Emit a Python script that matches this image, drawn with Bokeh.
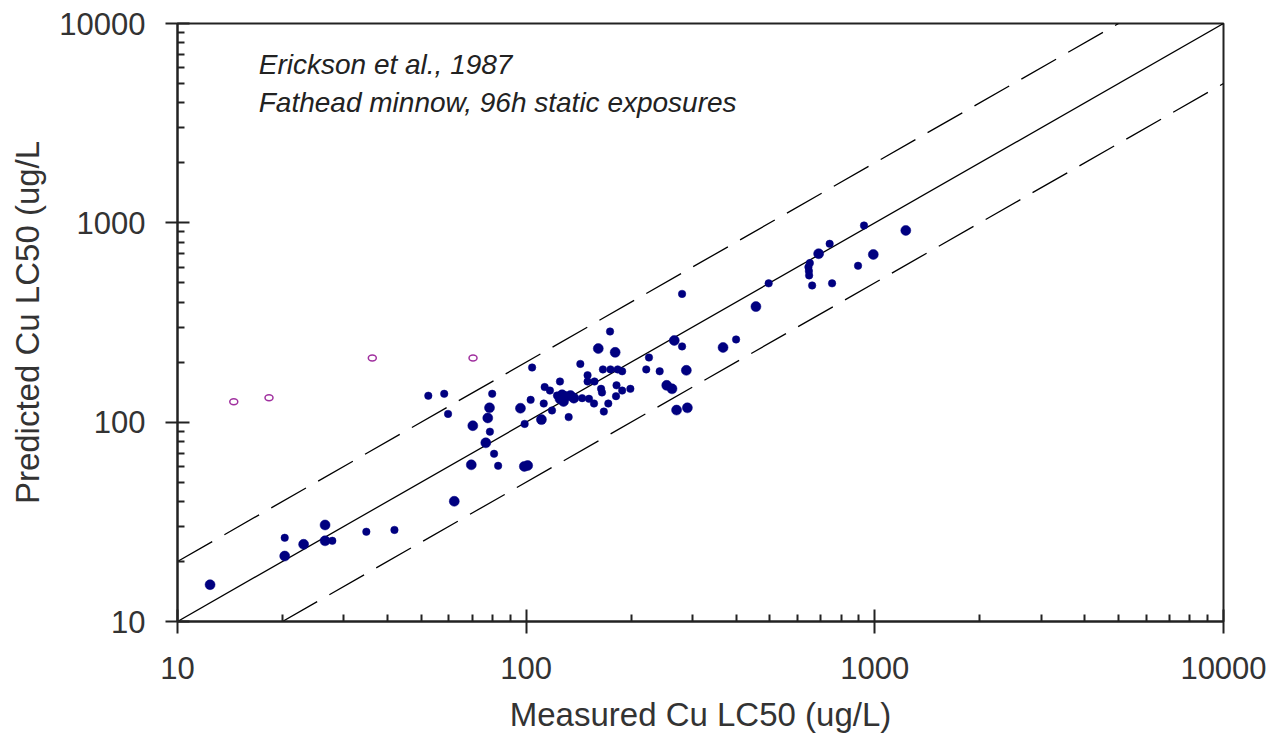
from bokeh.plotting import figure
from bokeh.models import Range1d, FixedTicker, NumeralTickFormatter, Label
from bokeh.embed import file_html
from bokeh.resources import INLINE

# ---- data ----
# larger filled markers
big_measured = [12.4, 20.3, 23.0, 26.5, 26.5, 62.2, 78.5, 77.6, 70.3, 76.6, 69.6,
                98.8, 101, 96.3, 110.6, 126.8, 129.7, 125, 128, 134, 137,
                180, 161, 266, 288, 253, 262, 270, 290, 367, 456, 690, 990, 1227]
big_predicted = [15.3, 21.3, 24.4, 30.5, 25.4, 40.1, 118, 105, 96, 78.8, 61.1,
                 60, 60.6, 117.5, 103, 137.3, 134.5, 131, 127, 136, 132,
                 224, 234, 257, 182, 153, 147, 115, 118, 237, 380, 700, 694, 916]
# smaller filled markers
small_measured = [20.3, 27.8, 34.8, 41.9, 52.4, 58.2, 59.7, 79.9, 78.7, 80.9, 83.1,
                  280, 174, 280, 225, 143, 104, 166, 174.5, 183, 188.5, 221, 241.5,
                  150, 150, 157, 125, 164, 165, 181.6, 188.5, 199, 181, 172, 167,
                  113, 117, 122.6, 112.3, 118.6, 132.4, 144.7, 151.4, 156.5, 103, 99,
                  400, 496, 931, 895, 754, 742, 651, 645, 647, 648, 661]
small_predicted = [26.3, 25.4, 28.2, 28.8, 135.7, 138.8, 110, 138.8, 89.6, 69.4, 60.4,
                   440, 285, 240, 211, 196, 188, 184, 184, 184, 180, 184, 180,
                   172, 160, 160, 160, 147, 141, 153, 144, 147, 135, 124, 113,
                   150, 144, 136, 124, 114.5, 106, 132, 131, 124, 129.4, 98,
                   260, 497, 970, 609, 497, 785, 628, 600, 573, 545, 485]
# open (excluded) markers
open_measured = [14.5, 18.3, 36.2, 70.4]
open_predicted = [126.6, 132.6, 210, 210]

# reference lines: 1:1 and factor-of-two bounds
line_x = [10, 10000]
line_y = [10, 10000]
upper_x = [10, 5000]
upper_y = [20, 10000]
lower_x = [20, 10000]
lower_y = [10, 5000]

major_ticks = [10, 100, 1000, 10000]
minor_ticks = [m * d for d in (10, 100, 1000) for m in range(2, 10)]

TXT = "#333333"
FONT = "Liberation Sans"

p = figure(width=1278, height=738, x_axis_type="log", y_axis_type="log",
           x_range=Range1d(10, 10000), y_range=Range1d(10, 10000),
           output_backend="svg", toolbar_location=None,
           min_border_left=177, min_border_right=55, min_border_top=23, min_border_bottom=117,
           background_fill_color="white", border_fill_color="white")

p.xgrid.visible = False
p.ygrid.visible = False
p.outline_line_color = "#222222"
p.outline_line_width = 2

for ax in (p.xaxis[0], p.yaxis[0]):
    ax.ticker = FixedTicker(ticks=major_ticks, minor_ticks=minor_ticks)
    ax.formatter = NumeralTickFormatter(format="0")
    ax.axis_line_color = "#222222"
    ax.axis_line_width = 2
    ax.major_tick_line_color = "#222222"
    ax.major_tick_line_width = 2
    ax.minor_tick_line_color = "#222222"
    ax.minor_tick_line_width = 2
    ax.major_tick_in = 12
    ax.major_tick_out = 12
    ax.minor_tick_in = 7
    ax.minor_tick_out = 0
    ax.major_label_text_font = FONT
    ax.major_label_text_font_size = "31px"
    ax.major_label_text_color = TXT
    ax.axis_label_text_font = FONT
    ax.axis_label_text_font_size = "33px"
    ax.axis_label_text_font_style = "normal"
    ax.axis_label_text_color = TXT

p.xaxis.axis_label = "Measured Cu LC50 (ug/L)"
p.yaxis.axis_label = "Predicted Cu LC50 (ug/L"
p.xaxis.major_label_standoff = 23
p.yaxis.major_label_standoff = 20
p.xaxis.axis_label_standoff = 14
p.yaxis.axis_label_standoff = 10

p.line(line_x, line_y, line_color="black", line_width=1.3)
p.line(upper_x, upper_y, line_color="black", line_width=1.3, line_dash="40 14")
p.line(lower_x, lower_y, line_color="black", line_width=1.3, line_dash="40 14")

NAVY = "#000080"
p.scatter(big_measured, big_predicted, marker="circle", size=10,
          fill_color=NAVY, line_color=NAVY, line_width=0.5)
p.scatter(small_measured, small_predicted, marker="circle", size=7.5,
          fill_color=NAVY, line_color=NAVY, line_width=0.5)
p.ellipse(open_measured, open_predicted, width=8, height=6,
          width_units="screen", height_units="screen",
          fill_color=None, line_color="#a0309f", line_width=1.5)

p.add_layout(Label(x=17.1, y=6250, text="Erickson et al., 1987",
                   text_font=FONT, text_font_style="italic", text_font_size="28px",
                   text_color="#222222", text_baseline="alphabetic"))
p.add_layout(Label(x=17.1, y=4020, text="Fathead minnow, 96h static exposures",
                   text_font=FONT, text_font_style="italic", text_font_size="28px",
                   text_color="#222222", text_baseline="alphabetic"))

open("out.html", "w").write(file_html(p, INLINE))
